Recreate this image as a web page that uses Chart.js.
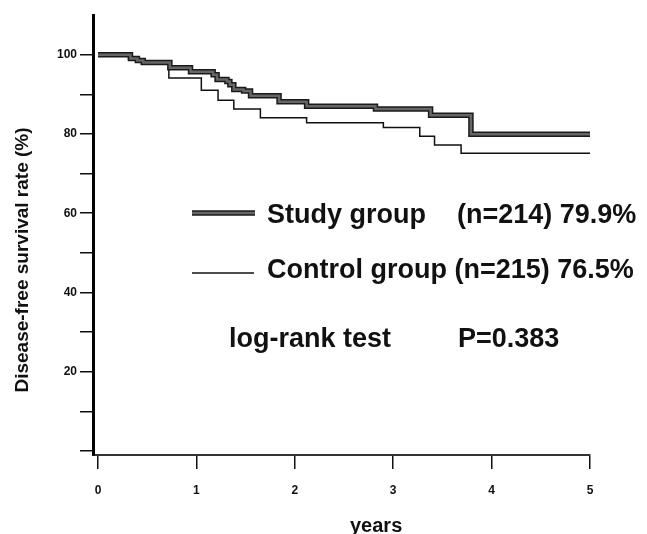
<!DOCTYPE html>
<html>
<head>
<meta charset="utf-8">
<script src="https://cdn.jsdelivr.net/npm/chart.js@4.4.1/dist/chart.umd.min.js"></script>
<style>
html, body { margin: 0; padding: 0; background: #fff; }
</style>
</head>
<body>
<canvas id="myChart" width="647" height="534"></canvas>
<script>
// Kaplan-Meier steps (years, survival %)
const studyYears = [0, 0.33, 0.40, 0.46, 0.73, 0.94, 1.17, 1.21, 1.31, 1.34, 1.38, 1.48, 1.55, 1.84, 2.12, 2.82, 3.38, 3.79, 5.0];
const studySurv  = [100, 99.0, 98.5, 98.0, 96.7, 95.7, 94.9, 93.7, 93.2, 92.4, 91.2, 90.8, 89.6, 88.1, 87.0, 86.3, 84.7, 79.9, 79.9];

const controlYears = [0, 0.31, 0.46, 0.72, 1.05, 1.22, 1.38, 1.65, 2.12, 2.90, 3.27, 3.42, 3.69, 5.0];
const controlSurv  = [100, 98.8, 97.8, 94.1, 91.0, 88.5, 86.3, 84.1, 82.8, 81.6, 79.4, 77.2, 75.1, 75.1];

const xTicks = [0, 1, 2, 3, 4, 5];
const yTicks = [0, 10, 20, 30, 40, 50, 60, 70, 80, 90, 100];
const yLabelled = [20, 40, 60, 80, 100];

const studyLabel = ['Study group', '(n=214) 79.9%'];
const controlLabel = 'Control group (n=215) 76.5%';
const testLabel = ['log-rank test', 'P=0.383'];

function toPoints(xs, ys) {
    return xs.map((x, i) => ({ x: x, y: ys[i] }));
}

const boldFont = "'Liberation Sans', Arial, sans-serif";

const textPlugin = {
    id: 'texts',
    afterDraw(chart) {
        const ctx = chart.ctx;
        ctx.save();
        // legend line samples
        ctx.lineCap = 'butt';
        ctx.strokeStyle = '#1a1a1a';
        ctx.lineWidth = 5.5;
        ctx.beginPath(); ctx.moveTo(192, 213); ctx.lineTo(255, 213); ctx.stroke();
        ctx.strokeStyle = '#666';
        ctx.lineWidth = 2.5;
        ctx.beginPath(); ctx.moveTo(192, 213); ctx.lineTo(255, 213); ctx.stroke();
        ctx.strokeStyle = '#111';
        ctx.lineWidth = 1.5;
        ctx.beginPath(); ctx.moveTo(192, 273); ctx.lineTo(254, 273); ctx.stroke();

        ctx.fillStyle = '#111';
        ctx.textBaseline = 'alphabetic';
        ctx.textAlign = 'left';
        ctx.font = 'bold 27px ' + boldFont;
        ctx.fillText(studyLabel[0], 267, 223);
        ctx.fillText(studyLabel[1], 457, 223);
        ctx.fillText(controlLabel, 267, 278);
        ctx.fillText(testLabel[0], 229, 347);
        ctx.fillText(testLabel[1], 458, 347);

        // axis titles
        ctx.font = 'bold 20px ' + boldFont;
        ctx.fillText('years', 350, 532);
        ctx.translate(28, 260);
        ctx.rotate(-Math.PI / 2);
        ctx.textAlign = 'center';
        ctx.font = 'bold 19px ' + boldFont;
        ctx.fillText('Disease-free survival rate (%)', 0, 0);
        ctx.restore();
    }
};

const data = {
    datasets: [{
        label: 'Study group',
        data: toPoints(studyYears, studySurv),
        borderColor: '#666',
        borderWidth: 2.5,
        stepped: true,
        pointRadius: 0,
        fill: false
    },
    {
        label: 'Study group outline',
        data: toPoints(studyYears, studySurv),
        borderColor: '#1a1a1a',
        borderWidth: 5.5,
        stepped: true,
        pointRadius: 0,
        fill: false
    },
    {
        label: 'Control group',
        data: toPoints(controlYears, controlSurv),
        borderColor: '#111',
        borderWidth: 1.5,
        stepped: true,
        pointRadius: 0,
        fill: false
    }]
};

const config = {
    type: 'line',
    data: data,
    options: {
        responsive: false,
        animation: false,
        devicePixelRatio: 1,
        layout: { padding: { top: 15, right: 57, left: 0, bottom: 0 } },
        plugins: {
            legend: { display: false },
            tooltip: { enabled: false }
        },
        scales: {
            x: {
                type: 'linear',
                min: -0.051,
                max: 5,
                afterBuildTicks: (scale) => { scale.ticks = xTicks.map(v => ({ value: v })); },
                afterFit: (scale) => { scale.height = 79; },
                border: { display: true, color: '#333', width: 2 },
                grid: { drawOnChartArea: false, drawTicks: true, tickLength: 14, color: '#111', lineWidth: 1.5 },
                ticks: {
                    padding: 14,
                    color: '#111',
                    font: { family: boldFont, size: 12, weight: 'bold' },
                    maxRotation: 0,
                    callback: (v) => String(v)
                }
            },
            y: {
                min: -1,
                max: 110,
                afterBuildTicks: (scale) => { scale.ticks = yTicks.map(v => ({ value: v })); },
                afterFit: (scale) => { scale.width = 93; },
                border: { display: true, color: '#000', width: 3 },
                grid: { drawOnChartArea: false, drawTicks: true, tickLength: 13, color: '#111', lineWidth: 1.5 },
                ticks: {
                    padding: 3,
                    color: '#111',
                    font: { family: boldFont, size: 12, weight: 'bold' },
                    callback: (v) => yLabelled.includes(v) ? String(v) : ''
                }
            }
        }
    },
    plugins: [textPlugin]
};

const myChart = new Chart(document.getElementById('myChart'), config);
</script>
</body>
</html>
